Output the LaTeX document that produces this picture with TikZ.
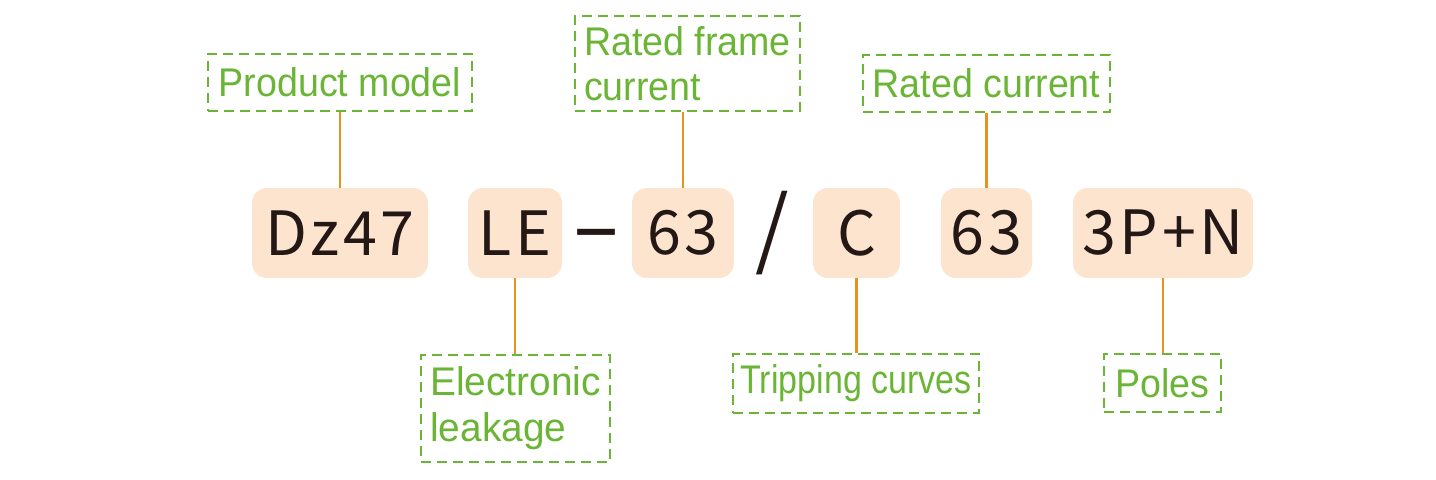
\documentclass[tikz,border=0pt]{standalone}
\usepackage{fontspec}
\setmainfont{Liberation Sans}
\newfontfamily\labfont[FakeStretch=0.94]{Liberation Sans}
\newfontfamily\labfontw[FakeStretch=0.97]{Liberation Sans}
\newfontfamily\labfontn[FakeStretch=0.85]{Liberation Sans}
\newfontfamily\codefont[LetterSpace=6]{Noto Sans CJK SC}
\newfontfamily\slashfont{Noto Sans CJK SC}
\newfontfamily\dashfont{DejaVu Sans}
\definecolor{peach}{HTML}{FCE4CE}
\definecolor{labgreen}{HTML}{6BB536}
\definecolor{linkorange}{HTML}{E8911E}
\definecolor{ink}{HTML}{231815}
\begin{document}
\begin{tikzpicture}[x=0.5pt,y=-0.5pt,
  codebox/.style={fill=peach, rounded corners=7.5pt, minimum height=45pt,
    inner sep=0pt, text=ink, font=\codefont\fontsize{30.5pt}{34pt}\selectfont},
  labbox/.style={draw=labgreen, line width=0.75pt, dash pattern=on 5pt off 3pt,
    text=labgreen, align=left, inner sep=0pt,
    font=\labfont\fontsize{20pt}{22.5pt}\selectfont},
  link/.style={draw=linkorange, line width=1.2pt},
  sep/.style={text=ink, inner sep=0pt}]
\useasboundingbox (0,0) rectangle (1436,479);
% code boxes
\node[codebox, minimum width=88pt]   (dz)  at (340,233)   {Dz47};
\node[codebox, minimum width=47pt]   (le)  at (515,233)   {LE};
\node[codebox, minimum width=51pt]   (fr)  at (683,233)   {63};
\node[codebox, minimum width=43.5pt] (cc)  at (856.5,233) {C};
\node[codebox, minimum width=45.5pt] (rc)  at (986.5,233) {63};
\node[codebox, minimum width=90pt]   (po)  at (1163,233)  {3P+N};
% separators
\node[sep, font=\dashfont\bfseries\fontsize{24pt}{28pt}\selectfont] (dash) at (596,237) {\scalebox{2}[1]{–}};
\node[sep, font=\slashfont\fontsize{43pt}{48pt}\selectfont] (slash) at (772,233) {/};
% labels
\node[labbox, minimum width=132pt, minimum height=28.5pt] (lpm) at (340,82.5) {Product model};
\node[labbox, minimum width=112.5pt, minimum height=47.5pt] (lfr) at (687.5,63.5) {Rated frame\\current};
\node[labbox, minimum width=123.5pt, minimum height=28.5pt] (lrc) at (986.5,83.5) {Rated current};
\node[labbox, minimum width=94.5pt, minimum height=53.5pt, font=\labfontw\fontsize{20pt}{23pt}\selectfont] (lel) at (515.5,408.5) {Electronic\\leakage};
\node[labbox, minimum width=123pt, minimum height=29.5pt, font=\labfontn\fontsize{20pt}{22.5pt}\selectfont] (ltc) at (856,383.5) {Tripping curves};
\node[labbox, minimum width=58.5pt, minimum height=29pt] (lpo) at (1162.5,383) {Poles};
% connectors
\draw[link] (dz.north) -- (dz.north |- lpm.south);
\draw[link] (fr.north) -- (fr.north |- lfr.south);
\draw[link] (rc.north) -- (rc.north |- lrc.south);
\draw[link] (le.south) -- (le.south |- lel.north);
\draw[link] (cc.south) -- (cc.south |- ltc.north);
\draw[link] (po.south) -- (po.south |- lpo.north);
\end{tikzpicture}
\end{document}
